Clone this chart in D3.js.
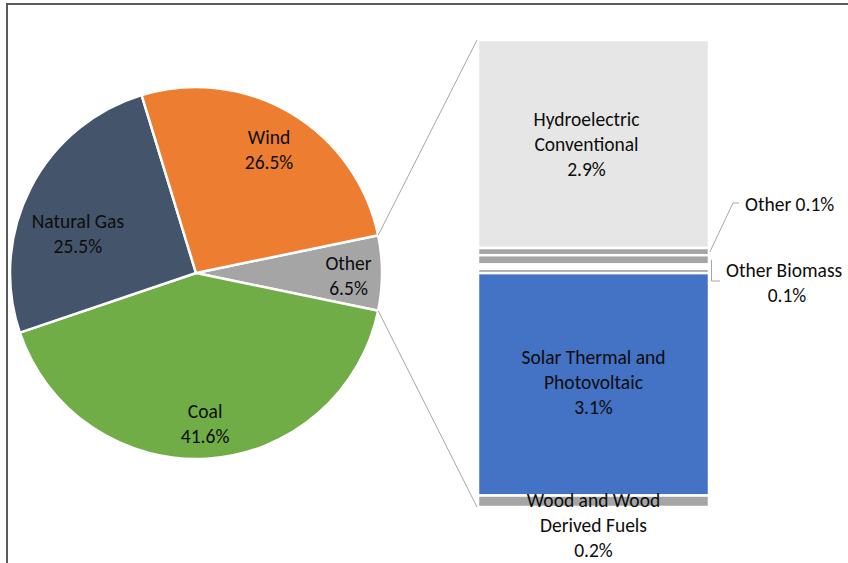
<!DOCTYPE html>
<html>
<head>
<meta charset="utf-8">
<script src="https://cdn.jsdelivr.net/npm/d3@7/dist/d3.min.js"></script>
<style>
  html, body { margin: 0; padding: 0; background: #ffffff; }
  svg { display: block; }
  text { font-family: Carlito, Calibri, Lato, "Noto Sans", sans-serif; font-size: 19.5px; fill: #0d0d0d; }
</style>
</head>
<body>
<svg id="chart" width="848" height="563"></svg>
<script>
// Electricity generation share by source (pie), with "Other" broken out in a bar
const pieCategories = ["Other", "Coal", "Natural Gas", "Wind"];
const pieValues     = [6.5, 41.6, 25.5, 26.5];
const pieColors     = ["#a5a5a5", "#70ad47", "#44546a", "#ed7d31"];

const barCategories = ["Hydroelectric Conventional", "Other", "Other Biomass", "Geothermal", "Other Gases", "Solar Thermal and Photovoltaic", "Wood and Wood Derived Fuels"];
const barValues     = [2.9, 0.1, 0.13, 0.06, 0.06, 3.1, 0.16];
const barColors     = ["#e7e6e6", "#a5a5a5", "#a5a5a5", "#ffffff", "#a5a5a5", "#4472c4", "#a5a5a5"];

const fmt = v => v.toFixed(1) + "%";
const svg = d3.select("#chart");

// chart frame
svg.append("path")
  .attr("d", "M7,563 V4 H848")
  .attr("fill", "none")
  .attr("stroke", "#595959")
  .attr("stroke-width", 2);

// ---- pie ----
const cx = 196, cy = 273, R = 186;
const total = d3.sum(pieValues);
const otherSpan = pieValues[0] / total * 2 * Math.PI;
const start = Math.PI / 2 - otherSpan / 2;
const pie = d3.pie().sort(null).value(d => d).startAngle(start).endAngle(start + 2 * Math.PI);
const arcs = pie(pieValues);
const arc = d3.arc().innerRadius(0).outerRadius(R);

const gPie = svg.append("g").attr("transform", `translate(${cx},${cy})`);
gPie.selectAll("path.slice")
  .data(arcs)
  .join("path")
  .attr("class", "slice")
  .attr("d", arc)
  .attr("fill", (d, i) => pieColors[i])
  .attr("stroke", "#ffffff")
  .attr("stroke-width", 2.5)
  .attr("stroke-linejoin", "round");

// label placement per slice: radius factor and pixel nudges
const labelR  = [0.82, 0.80, 0.72, 0.77];
const labelDx = [0, 0, 1, 0];
const labelDy = [3, 2, 22, 0];
arcs.forEach((d, i) => {
  const a = (d.startAngle + d.endAngle) / 2;
  const x = Math.sin(a) * R * labelR[i] + labelDx[i];
  const y = -Math.cos(a) * R * labelR[i] + labelDy[i];
  const t = gPie.append("text").attr("text-anchor", "middle");
  t.append("tspan").attr("x", x).attr("y", y - 12.5).attr("dy", "0.35em").text(pieCategories[i]);
  t.append("tspan").attr("x", x).attr("y", y + 12.5).attr("dy", "0.35em").text(fmt(pieValues[i]));
});

// ---- bar of "Other" ----
const barX0 = 478, barX1 = 709;
const barTotal = d3.sum(barValues);
const y = d3.scaleLinear().domain([0, barTotal]).range([40, 507]);
let acc = 0;
const segs = barValues.map((v, i) => {
  const s = { i, y0: acc, y1: acc + v, v };
  acc += v;
  return s;
});

const gBar = svg.append("g");
gBar.selectAll("rect")
  .data(segs)
  .join("rect")
  .attr("x", barX0)
  .attr("width", barX1 - barX0)
  .attr("y", d => y(d.y0))
  .attr("height", d => y(d.y1) - y(d.y0))
  .attr("fill", d => barColors[d.i])
  .attr("stroke", "#ffffff")
  .attr("stroke-width", 2.5);

// connector lines from the pie's "Other" slice to the bar
const oArc = arcs[0];
const p0 = [cx + Math.sin(oArc.startAngle) * R, cy - Math.cos(oArc.startAngle) * R];
const p1 = [cx + Math.sin(oArc.endAngle) * R, cy - Math.cos(oArc.endAngle) * R];
svg.append("line")
  .attr("x1", p0[0]).attr("y1", p0[1]).attr("x2", barX0 - 1).attr("y2", y(0))
  .attr("stroke", "#a6a6a6").attr("stroke-width", 1);
svg.append("line")
  .attr("x1", p1[0]).attr("y1", p1[1]).attr("x2", barX0 - 1).attr("y2", y(barTotal))
  .attr("stroke", "#a6a6a6").attr("stroke-width", 1);

const barMid = (barX0 + barX1) / 2;
function multiLine(x, yFirst, lines) {
  const t = svg.append("text").attr("text-anchor", "middle");
  lines.forEach((s, k) => {
    t.append("tspan").attr("x", x).attr("y", yFirst + k * 25).attr("dy", "0.35em").text(s);
  });
}

// labels inside the large segments
const hs = segs[0], ss = segs[5], ws = segs[6];
multiLine(barMid - 7, (y(hs.y0) + y(hs.y1)) / 2 - 25, ["Hydroelectric", "Conventional", fmt(barValues[0])]);
multiLine(barMid, (y(ss.y0) + y(ss.y1)) / 2 - 27, ["Solar Thermal and", "Photovoltaic", fmt(barValues[5])]);
multiLine(barMid, (y(ws.y0) + y(ws.y1)) / 2 - 1, ["Wood and Wood", "Derived Fuels", fmt(barValues[6])]);

// callouts for the thin segments
const os = segs[1], bs = segs[2];
const oy = (y(os.y0) + y(os.y1)) / 2;
const by = (y(bs.y0) + y(bs.y1)) / 2;
svg.append("polyline")
  .attr("points", `${barX1 + 1},${oy} ${733},${203} ${739},${203}`)
  .attr("fill", "none").attr("stroke", "#a6a6a6").attr("stroke-width", 1);
svg.append("text").attr("x", 745).attr("y", 204).attr("dy", "0.35em")
  .text(barCategories[1] + " " + fmt(barValues[1]));

svg.append("polyline")
  .attr("points", `${barX1 + 2.5},${by} ${barX1 + 2.5},${281} ${720},${281}`)
  .attr("fill", "none").attr("stroke", "#a6a6a6").attr("stroke-width", 1);
svg.append("text").attr("x", 726).attr("y", 270).attr("dy", "0.35em").text(barCategories[2]);
svg.append("text").attr("x", 787).attr("y", 295).attr("dy", "0.35em").attr("text-anchor", "middle").text(fmt(barValues[2]));
</script>
</body>
</html>
